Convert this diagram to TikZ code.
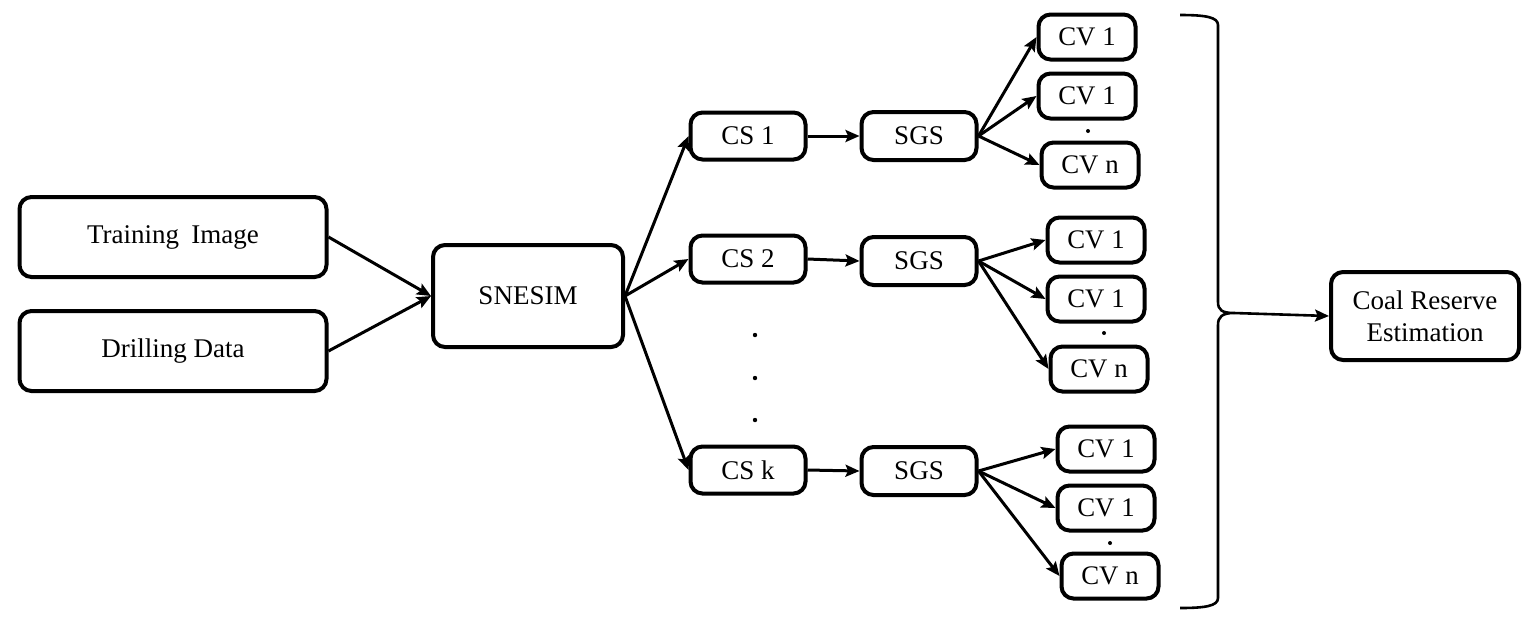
\documentclass[tikz,border=0pt]{standalone}
\usepackage{fontspec}
\setmainfont{Liberation Serif}
\usetikzlibrary{arrows.meta}
\begin{document}
\begin{tikzpicture}[x=0.5pt,y=-0.5pt,
  box/.style={draw,line width=2pt,rounded corners=6pt,align=center,inner sep=0pt},
  bigbox/.style={box,minimum width=153.5pt,minimum height=40pt,font=\fontsize{13.5}{16}\selectfont},
  csbox/.style={box,minimum width=57.5pt,minimum height=23.5pt,font=\fontsize{13.5}{16}\selectfont},
  cvbox/.style={box,minimum width=48.5pt,minimum height=22.5pt,font=\fontsize{13.4}{15}\selectfont},
  arr/.style={line width=1.5pt,-{Stealth[length=7pt,width=6pt,inset=1.3pt]}},
  dotnode/.style={circle,fill,inner sep=0pt,minimum size=2.2pt}]
\useasboundingbox (0,0) rectangle (1535,634);
\node[bigbox] (ti) at (173,237) {Training\hspace{0.45em}Image};
\node[bigbox] (dd) at (173,351) {Drilling Data};
\node[box,minimum width=95pt,minimum height=51pt,font=\fontsize{13.5}{16}\selectfont] (sn) at (528,296) {SNESIM};
\node[csbox] (cs1) at (748,136) {CS 1};
\node[csbox] (cs2) at (748,259) {CS 2};
\node[csbox] (csk) at (748,470) {CS k};
\node[dotnode] (d1) at (755,335) {};
\node[dotnode] (d2) at (755,378) {};
\node[dotnode] (d3) at (755,420) {};
\node[csbox,minimum height=24pt] (sg1) at (919,136) {SGS};
\node[csbox,minimum height=24pt] (sg2) at (919,261) {SGS};
\node[csbox,minimum height=24pt] (sg3) at (919,471) {SGS};
% top group
\node[cvbox] (a1) at (1087,37) {CV 1};
\node[cvbox] (a2) at (1087,96) {CV 1};
\node[dotnode,minimum size=2pt] (ad) at (1088,131) {};
\node[cvbox] (an) at (1090,165) {CV n};
% middle group
\node[cvbox] (b1) at (1096,240) {CV 1};
\node[cvbox] (b2) at (1096,299) {CV 1};
\node[dotnode,minimum size=2pt] (bd) at (1104,333) {};
\node[cvbox] (bn) at (1099,369) {CV n};
% bottom group
\node[cvbox] (c1) at (1106,449) {CV 1};
\node[cvbox] (c2) at (1106,508) {CV 1};
\node[dotnode,minimum size=2pt] (cd) at (1110,543) {};
\node[cvbox] (cn) at (1110,576) {CV n};
\node[box,minimum width=94pt,minimum height=44pt,font=\fontsize{13.5}{16}\selectfont] (cr) at (1425,316) {Coal Reserve\\Estimation};
% arrows
\draw[arr] (ti.east) -- (sn.west);
\draw[arr] (dd.east) -- (sn.west);
\draw[arr] (sn.east) -- (cs1.west);
\draw[arr] (sn.east) -- (cs2.west);
\draw[arr] (sn.east) -- (csk.west);
\draw[arr] (cs1.east) -- (sg1.west);
\draw[arr] (cs2.east) -- (sg2.west);
\draw[arr] (csk.east) -- (sg3.west);
\foreach \s/\p in {sg1/a1,sg1/a2,sg1/an,sg2/b1,sg2/b2,sg2/bn,sg3/c1,sg3/c2,sg3/cn}
  \draw[arr] (\s.east) -- (\p.west);
% brace
\coordinate (bt) at (1234,313);
\draw[line width=1.3pt] (1180,15) .. controls (1205,15) and (1218,17) .. (1218,25)
  -- (1218,302) .. controls (1218,310) and (1222,313) .. (bt)
  .. controls (1222,313) and (1218,317) .. (1218,325)
  -- (1218,598) .. controls (1218,606) and (1205,608) .. (1180,608);
\draw[arr,line width=1.3pt] (bt) -- (cr.west);
\end{tikzpicture}
\end{document}
